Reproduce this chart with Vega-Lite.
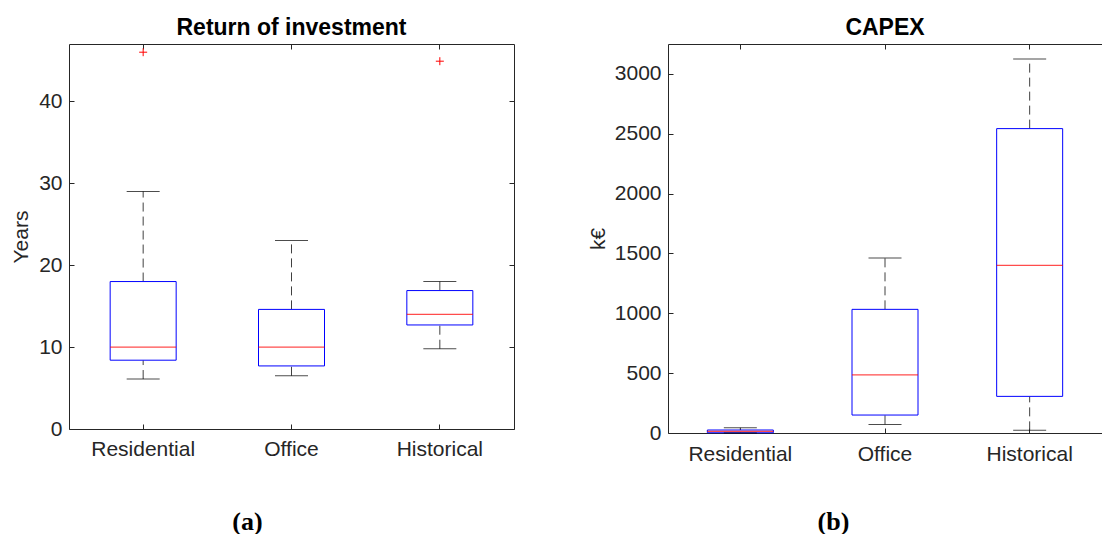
{
  "$schema": "https://vega.github.io/schema/vega-lite/v6.json",
  "background": "white",
  "padding": {"left": 10, "top": 16, "right": 0, "bottom": 0},
  "spacing": 72,
  "datasets": {
    "roi": [
      {"cat": "Residential", "lower": 6.1, "q1": 8.4, "median": 10, "q3": 18, "upper": 29},
      {"cat": "Office", "lower": 6.5, "q1": 7.7, "median": 10, "q3": 14.6, "upper": 23},
      {"cat": "Historical", "lower": 9.8, "q1": 12.7, "median": 14, "q3": 16.9, "upper": 18}
    ],
    "roi_out": [
      {"cat": "Residential", "value": 46},
      {"cat": "Historical", "value": 44.9}
    ],
    "capex": [
      {"cat": "Residential", "lower": 0, "q1": 2, "median": 13, "q3": 25, "upper": 44},
      {"cat": "Office", "lower": 72, "q1": 150, "median": 485, "q3": 1033, "upper": 1462},
      {"cat": "Historical", "lower": 22, "q1": 306, "median": 1401, "q3": 2543, "upper": 3125}
    ]
  },
  "hconcat": [
    {
      "width": 445,
      "height": 385,
      "title": {"text": "Return of investment", "font": "Liberation Sans", "fontSize": 23, "fontWeight": "bold", "color": "#000000", "baseline": "alphabetic", "offset": -14},
      "data": {"name": "roi"},
      "layer": [
        {
          "mark": {"type": "rule", "strokeDash": [9, 5], "color": "#404040", "strokeWidth": 1},
          "encoding": {
            "x": {"field": "cat", "type": "nominal", "sort": ["Residential", "Office", "Historical"], "scale": {"paddingInner": 0, "paddingOuter": 0},
              "axis": {"orient": "bottom", "tickSize": -5, "labelPadding": 14, "labelAngle": 0, "title": "(a)", "titleX": 178, "titleY": 92, "titleFont": "Liberation Serif", "titleFontSize": 26, "titleFontWeight": "bold", "titleColor": "#000000", "titleBaseline": "middle", "titleAlign": "center"}},
            "y": {"field": "q3", "type": "quantitative", "scale": {"domain": [0, 47], "nice": false, "zero": false},
              "axis": {"orient": "left", "values": [0, 10, 20, 30, 40], "tickSize": -5, "labelPadding": 12, "title": "Years", "titleBaseline": "alphabetic", "titlePadding": 10, "minExtent": 32, "maxExtent": 32}},
            "y2": {"field": "upper"}
          }
        },
        {
          "mark": {"type": "rule", "strokeDash": [9, 5], "color": "#404040", "strokeWidth": 1},
          "encoding": {
            "x": {"field": "cat", "type": "nominal", "sort": ["Residential", "Office", "Historical"], "axis": null},
            "y": {"field": "lower", "type": "quantitative", "axis": null},
            "y2": {"field": "q1"}
          }
        },
        {
          "mark": {"type": "bar", "size": 66, "fill": "#ffffff", "stroke": "#0000FF", "strokeWidth": 1},
          "encoding": {
            "x": {"field": "cat", "type": "nominal", "sort": ["Residential", "Office", "Historical"], "axis": null},
            "y": {"field": "q1", "type": "quantitative", "axis": null},
            "y2": {"field": "q3"}
          }
        },
        {
          "mark": {"type": "tick", "size": 66, "thickness": 1.2, "color": "#FF0000"},
          "encoding": {
            "x": {"field": "cat", "type": "nominal", "sort": ["Residential", "Office", "Historical"], "axis": null},
            "y": {"field": "median", "type": "quantitative", "axis": null}
          }
        },
        {
          "mark": {"type": "tick", "size": 33, "thickness": 1, "color": "#000000"},
          "encoding": {
            "x": {"field": "cat", "type": "nominal", "sort": ["Residential", "Office", "Historical"], "axis": null},
            "y": {"field": "upper", "type": "quantitative", "axis": null}
          }
        },
        {
          "mark": {"type": "tick", "size": 33, "thickness": 1, "color": "#000000"},
          "encoding": {
            "x": {"field": "cat", "type": "nominal", "sort": ["Residential", "Office", "Historical"], "axis": null},
            "y": {"field": "lower", "type": "quantitative", "axis": null}
          }
        },
        {
          "data": {"name": "roi_out"},
          "mark": {"type": "point", "shape": "M-1,0L1,0M0,-1L0,1", "size": 64, "stroke": "#FF0000", "strokeWidth": 1, "filled": false, "opacity": 1},
          "encoding": {
            "x": {"field": "cat", "type": "nominal", "sort": ["Residential", "Office", "Historical"],
              "axis": {"orient": "top", "tickSize": -5, "labels": false, "title": null, "minExtent": 0, "maxExtent": 0}},
            "y": {"field": "value", "type": "quantitative",
              "axis": {"orient": "right", "values": [0, 10, 20, 30, 40], "tickSize": -5, "labels": false, "title": null, "minExtent": 0, "maxExtent": 0}}
          }
        }
      ],
      "resolve": {"axis": {"x": "independent", "y": "independent"}}
    },
    {
      "width": 434,
      "height": 389,
      "title": {"text": "CAPEX", "font": "Liberation Sans", "fontSize": 23, "fontWeight": "bold", "color": "#000000", "baseline": "alphabetic", "offset": -14},
      "data": {"name": "capex"},
      "layer": [
        {
          "mark": {"type": "rule", "strokeDash": [9, 5], "color": "#404040", "strokeWidth": 1},
          "encoding": {
            "x": {"field": "cat", "type": "nominal", "sort": ["Residential", "Office", "Historical"], "scale": {"paddingInner": 0, "paddingOuter": 0},
              "axis": {"orient": "bottom", "tickSize": -5, "labelPadding": 15, "labelAngle": 0, "title": "(b)", "titleX": 165, "titleY": 88, "titleFont": "Liberation Serif", "titleFontSize": 26, "titleFontWeight": "bold", "titleColor": "#000000", "titleBaseline": "middle", "titleAlign": "center"}},
            "y": {"field": "q3", "type": "quantitative", "scale": {"domain": [0, 3250], "nice": false, "zero": false},
              "axis": {"orient": "left", "values": [0, 500, 1000, 1500, 2000, 2500, 3000], "format": "d", "tickSize": -5, "labelPadding": 12, "title": "k€", "titleBaseline": "alphabetic", "titlePadding": 12, "minExtent": 52, "maxExtent": 52}},
            "y2": {"field": "upper"}
          }
        },
        {
          "mark": {"type": "rule", "strokeDash": [9, 5], "color": "#404040", "strokeWidth": 1},
          "encoding": {
            "x": {"field": "cat", "type": "nominal", "sort": ["Residential", "Office", "Historical"], "axis": null},
            "y": {"field": "lower", "type": "quantitative", "axis": null},
            "y2": {"field": "q1"}
          }
        },
        {
          "mark": {"type": "bar", "size": 66, "fill": "#ffffff", "stroke": "#0000FF", "strokeWidth": 1},
          "encoding": {
            "x": {"field": "cat", "type": "nominal", "sort": ["Residential", "Office", "Historical"], "axis": null},
            "y": {"field": "q1", "type": "quantitative", "axis": null},
            "y2": {"field": "q3"}
          }
        },
        {
          "mark": {"type": "tick", "size": 66, "thickness": 1.2, "color": "#FF0000"},
          "encoding": {
            "x": {"field": "cat", "type": "nominal", "sort": ["Residential", "Office", "Historical"], "axis": null},
            "y": {"field": "median", "type": "quantitative", "axis": null}
          }
        },
        {
          "mark": {"type": "tick", "size": 33, "thickness": 1, "color": "#000000"},
          "encoding": {
            "x": {"field": "cat", "type": "nominal", "sort": ["Residential", "Office", "Historical"], "axis": null},
            "y": {"field": "upper", "type": "quantitative", "axis": null}
          }
        },
        {
          "mark": {"type": "tick", "size": 33, "thickness": 1, "color": "#000000"},
          "encoding": {
            "x": {"field": "cat", "type": "nominal", "sort": ["Residential", "Office", "Historical"],
              "axis": {"orient": "top", "tickSize": -5, "labels": false, "title": null, "minExtent": 0, "maxExtent": 0}},
            "y": {"field": "lower", "type": "quantitative", "axis": null}
          }
        }
      ],
      "resolve": {"axis": {"x": "independent", "y": "independent"}}
    }
  ],
  "config": {
    "view": {"stroke": null},
    "axis": {"grid": false, "labelFont": "Liberation Sans", "titleFont": "Liberation Sans", "labelFontSize": 21, "titleFontSize": 21, "titleFontWeight": "normal", "labelColor": "#262626", "titleColor": "#262626", "domainColor": "#262626", "tickColor": "#262626", "domainWidth": 1, "tickWidth": 1}
  }
}
